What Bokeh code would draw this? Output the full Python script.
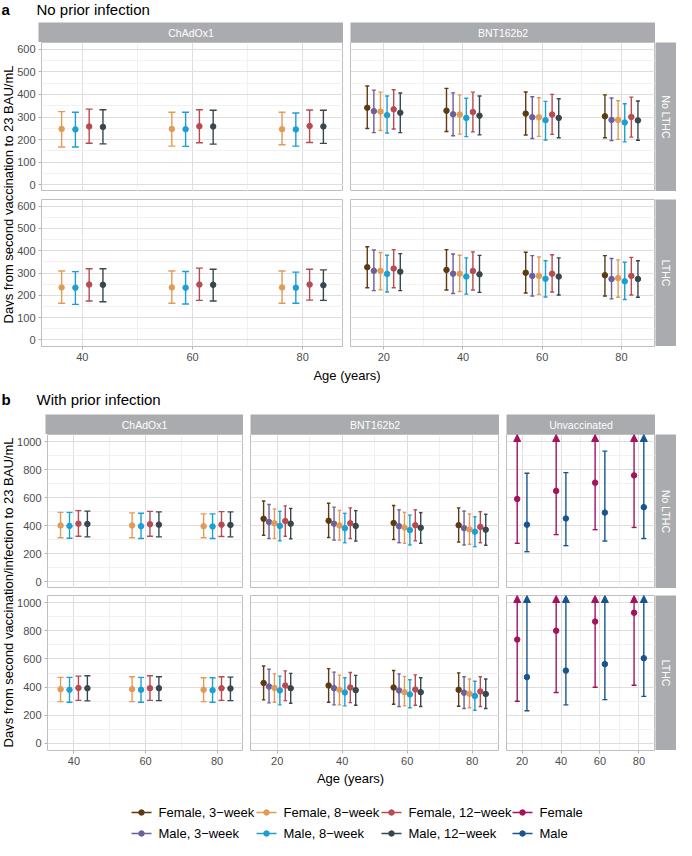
import math
from bokeh.plotting import figure
from bokeh.models import (Range1d, FixedTicker, ColumnDataSource, Whisker, TeeHead,
                          Arrow, NormalHead, Label, Spacer)
from bokeh.layouts import row, column
from bokeh.embed import file_html
from bokeh.resources import INLINE
from bokeh.core.properties import value

FONT = "Liberation Sans"

# ------------------------------------------------------------------ data
groups = ["Female, 3\u2212week", "Male, 3\u2212week", "Female, 8\u2212week",
          "Male, 8\u2212week", "Female, 12\u2212week", "Male, 12\u2212week"]
group_colors = ["#5c3b12", "#6b609b", "#e29b57", "#1c9fd3", "#b84a52", "#37474f"]
sex_groups = ["Female", "Male"]
sex_colors = ["#a5125c", "#17558f"]

chad_group_idx = [2, 3, 4, 5]          # ChAdOx1 only has 8- and 12-week intervals
bnt_group_idx = [0, 1, 2, 3, 4, 5]
chad_ages = [40, 60, 80]
bnt_ages = [20, 40, 60, 80]
unvac_ages = [20, 40, 60, 80]

a_y_ticks = [0, 100, 200, 300, 400, 500, 600]
b_y_ticks = [0, 200, 400, 600, 800, 1000]
chad_x_ticks = [40, 60, 80]
age_x_ticks = [20, 40, 60, 80]

OFF = None  # upper limit beyond the axis -> drawn as an arrow

# panel a, ChAdOx1, No LTHC (rows: F8, M8, F12, M12; cols: ages 40, 60, 80)
a_chad_no_est = [[247, 247, 246], [245, 246, 245], [258, 259, 260], [256, 258, 258]]
a_chad_no_lo = [[167, 171, 177], [167, 170, 171], [184, 186, 187], [181, 180, 183]]
a_chad_no_hi = [[324, 321, 321], [321, 321, 318], [335, 332, 331], [332, 330, 330]]
# panel a, ChAdOx1, LTHC
a_chad_lt_est = [[235, 235, 235], [234, 234, 234], [248, 248, 248], [247, 247, 245]]
a_chad_lt_lo = [[164, 164, 164], [159, 161, 164], [174, 177, 178], [171, 174, 177]]
a_chad_lt_hi = [[309, 309, 309], [306, 307, 304], [319, 322, 317], [319, 317, 314]]

# panel a, BNT162b2, No LTHC (rows: F3, M3, F8, M8, F12, M12; cols: ages 20, 40, 60, 80)
a_bnt_no_est = [[341, 328, 315, 303], [326, 312, 299, 287], [324, 311, 299, 287],
                [308, 296, 286, 276], [334, 322, 311, 300], [319, 306, 296, 285]]
a_bnt_no_lo = [[249, 236, 220, 208], [231, 217, 205, 196], [240, 224, 214, 201],
               [229, 213, 198, 190], [247, 234, 223, 211], [231, 221, 208, 197]]
a_bnt_no_hi = [[437, 427, 411, 398], [419, 407, 390, 384], [410, 398, 385, 372],
               [393, 383, 369, 359], [421, 410, 400, 388], [406, 393, 381, 371]]
# panel a, BNT162b2, LTHC
a_bnt_lt_est = [[326, 314, 301, 290], [310, 297, 287, 273], [310, 297, 287, 277],
                [296, 284, 274, 263], [320, 309, 297, 287], [306, 294, 284, 273]]
a_bnt_lt_lo = [[234, 224, 210, 197], [221, 208, 197, 184], [225, 217, 204, 191],
               [215, 205, 192, 181], [234, 224, 215, 201], [221, 213, 201, 191]]
a_bnt_lt_hi = [[418, 405, 393, 378], [403, 385, 378, 365], [392, 380, 372, 359],
               [380, 368, 355, 348], [405, 395, 382, 370], [387, 379, 368, 355]]

# panel b, ChAdOx1, No LTHC
b_chad_no_est = [[400, 400, 395], [397, 395, 393], [413, 409, 406], [411, 406, 404]]
b_chad_no_lo = [[312, 312, 312], [309, 307, 307], [323, 323, 321], [319, 319, 319]]
b_chad_no_hi = [[494, 490, 483], [494, 487, 483], [506, 501, 499], [503, 497, 497]]
# panel b, ChAdOx1, LTHC
b_chad_lt_est = [[385, 385, 381], [381, 381, 378], [394, 392, 392], [392, 392, 390]]
b_chad_lt_lo = [[297, 297, 297], [292, 292, 292], [306, 306, 306], [302, 304, 304]]
b_chad_lt_hi = [[469, 473, 466], [469, 469, 466], [478, 480, 473], [480, 473, 471]]

# panel b, BNT162b2, No LTHC
b_bnt_no_est = [[448, 434, 418, 402], [425, 413, 395, 381], [416, 400, 386, 372],
                [397, 381, 367, 356], [432, 416, 402, 390], [413, 397, 384, 370]]
b_bnt_no_lo = [[330, 314, 300, 282], [307, 296, 277, 261], [307, 296, 273, 266],
               [291, 277, 261, 249], [323, 307, 291, 277], [305, 289, 273, 259]]
b_bnt_no_hi = [[575, 559, 543, 526], [550, 531, 512, 503], [519, 508, 494, 483],
               [501, 487, 474, 462], [540, 526, 512, 499], [522, 506, 492, 480]]
# panel b, BNT162b2, LTHC
b_bnt_lt_est = [[429, 411, 397, 381], [404, 392, 376, 360], [394, 381, 364, 353],
                [376, 362, 348, 337], [411, 397, 383, 369], [392, 378, 364, 351]]
b_bnt_lt_lo = [[309, 292, 278, 264], [288, 274, 262, 248], [292, 274, 267, 253],
               [274, 267, 253, 236], [304, 290, 271, 262], [285, 271, 262, 248]]
b_bnt_lt_hi = [[550, 531, 518, 501], [527, 506, 494, 473], [494, 485, 476, 457],
               [478, 466, 452, 441], [515, 504, 487, 473], [497, 483, 466, 457]]

# panel b, Unvaccinated, No LTHC (rows: Female, Male)
b_unv_no_est = [[589, 647, 706, 758], [406, 450, 492, 531]]
b_unv_no_lo = [[273, 335, 370, 386], [213, 256, 289, 307]]
b_unv_no_hi = [[OFF, OFF, OFF, OFF], [773, 778, 931, OFF]]
# panel b, Unvaccinated, LTHC
b_unv_lt_est = [[737, 800, 865, 928], [471, 517, 563, 605]]
b_unv_lt_lo = [[299, 362, 399, 413], [232, 274, 311, 334]]
b_unv_lt_hi = [[OFF, OFF, OFF, OFF], [OFF, OFF, OFF, OFF]]

# ------------------------------------------------------------------ style
STRIP = "#a9abae"
BORDER = "#bfbfbf"
GRID = "#dedede"
GRID_MINOR = "#ededed"
TICK_TXT = "#4d4d4d"
LW = 1.4
PT = 5.5
DODGE = 10.0

A_YR = (-30, 630)
B_YR = (-50, 1050)


def style_axes(p):
    for ax in list(p.xaxis) + list(p.yaxis):
        ax.axis_line_color = None
        ax.major_tick_line_color = "#b3b3b3"
        ax.major_tick_out = 3
        ax.major_tick_in = 0
        ax.minor_tick_line_color = None
        ax.major_label_standoff = 2
        ax.major_label_text_font = FONT
        ax.major_label_text_font_size = "11px"
        ax.major_label_text_color = TICK_TXT


def panel(xr, yr, fw, fh, xticks, yticks, ystep, left=0, bottom=0):
    p = figure(width=fw + left, height=fh + bottom,
               x_range=Range1d(*xr), y_range=Range1d(*yr),
               output_backend="svg", toolbar_location=None,
               x_axis_location="below" if bottom else None,
               y_axis_location="left" if left else None,
               min_border_left=left, min_border_bottom=bottom,
               min_border_top=0, min_border_right=0)
    p.outline_line_color = BORDER
    p.outline_line_width = 1
    p.background_fill_color = "white"
    xt = FixedTicker(ticks=xticks, minor_ticks=[10, 30, 50, 70, 90])
    yt = FixedTicker(ticks=yticks,
                     minor_ticks=[t + ystep / 2 for t in [yticks[0] - ystep] + yticks])
    p.xgrid.ticker = xt
    p.ygrid.ticker = yt
    for g in list(p.xgrid) + list(p.ygrid):
        g.grid_line_color = GRID
        g.grid_line_width = 1
        g.minor_grid_line_color = GRID_MINOR
        g.minor_grid_line_width = 0.8
    for ax in p.xaxis:
        ax.ticker = xt
    for ax in p.yaxis:
        ax.ticker = yt
    style_axes(p)
    return p


def draw(p, ages, est, lo, hi, gidx, colors, cap, ytop):
    n = len(gidx)
    for k, gi in enumerate(gidx):
        off = (k - (n - 1) / 2) * DODGE / n
        xs = [a + off for a in ages]
        c = colors[gi]
        closed = [j for j in range(len(ages)) if hi[k][j] is not None]
        opened = [j for j in range(len(ages)) if hi[k][j] is None]
        if closed:
            src = ColumnDataSource(dict(x=[xs[j] for j in closed],
                                        lo=[lo[k][j] for j in closed],
                                        hi=[hi[k][j] for j in closed]))
            w = Whisker(source=src, base="x", lower="lo", upper="hi",
                        line_color=c, line_width=LW, level="underlay",
                        upper_head=TeeHead(size=cap, line_color=c, line_width=LW),
                        lower_head=TeeHead(size=cap, line_color=c, line_width=LW))
            p.add_layout(w)
        if opened:
            src = ColumnDataSource(dict(x=[xs[j] for j in opened],
                                        y0=[lo[k][j] for j in opened],
                                        y1=[ytop for j in opened]))
            a = Arrow(source=src, x_start="x", y_start="y0", x_end="x", y_end="y1",
                      line_color=c, line_width=LW, level="underlay",
                      start=TeeHead(size=cap, line_color=c, line_width=LW),
                      end=NormalHead(size=7, fill_color=c, line_color=c, line_width=1))
            p.add_layout(a)
        p.scatter(xs, est[k], size=PT, color=c, marker="circle")


def text_fig(w, h, bg=None):
    p = figure(width=w, height=h, x_range=Range1d(0, w), y_range=Range1d(0, h),
               output_backend="svg", toolbar_location=None,
               x_axis_location=None, y_axis_location=None, min_border=0)
    p.xgrid.visible = False
    p.ygrid.visible = False
    p.outline_line_color = None
    if bg:
        p.background_fill_color = bg
        p.border_fill_color = bg
    return p


def top_strip(w, txt, h=20):
    p = text_fig(w, h, STRIP)
    p.add_layout(Label(x=w / 2, y=h / 2, text=txt, text_font=FONT, text_font_size="10.5px",
                       text_color="white", text_align="center", text_baseline="middle"))
    return p


def right_strip(h, txt, w=21):
    p = text_fig(w, h, STRIP)
    p.add_layout(Label(x=w / 2, y=h / 2, text=txt, text_font=FONT, text_font_size="10.5px",
                       text_color="white", text_align="center", text_baseline="middle",
                       angle=-math.pi / 2))
    return p


def y_title(h, center_from_bottom, txt, w=14):
    p = text_fig(w, h)
    p.add_layout(Label(x=w / 2 + 0.5, y=center_from_bottom, text=txt, text_font=FONT,
                       text_font_size="13px", text_color="black", text_align="center",
                       text_baseline="middle", angle=math.pi / 2))
    return p


def centered_label(w, h, x, txt):
    p = text_fig(w, h)
    p.add_layout(Label(x=x, y=h / 2, text=txt, text_font=FONT, text_font_size="13px",
                       text_color="black", text_align="center", text_baseline="middle"))
    return p


def section_title(w, h, yc, letter, txt):
    p = text_fig(w, h)
    p.add_layout(Label(x=1, y=yc, text=letter, text_font=FONT, text_font_size="15px",
                       text_font_style="bold", text_color="black", text_align="left",
                       text_baseline="middle"))
    p.add_layout(Label(x=36, y=yc, text=txt, text_font=FONT, text_font_size="15px",
                       text_color="black", text_align="left", text_baseline="middle"))
    return p


TOTAL_W = 676

# ------------------------------------------------------------------ section a
A_TL, A_PW, A_GAP, A_SW, A_YT = 24, 305, 7, 21, 14
A_H1, A_H2, A_AX, A_VG = 149, 147, 20, 8
A_CHAD_XR = (32.6, 87.4)
A_BNT_XR = (11.6, 88.6)

pa11 = panel(A_CHAD_XR, A_YR, A_PW, A_H1, chad_x_ticks, a_y_ticks, 100, left=A_TL)
draw(pa11, chad_ages, a_chad_no_est, a_chad_no_lo, a_chad_no_hi, chad_group_idx, group_colors, 7, A_YR[1])
pa12 = panel(A_BNT_XR, A_YR, A_PW, A_H1, age_x_ticks, a_y_ticks, 100)
draw(pa12, bnt_ages, a_bnt_no_est, a_bnt_no_lo, a_bnt_no_hi, bnt_group_idx, group_colors, 4, A_YR[1])
pa21 = panel(A_CHAD_XR, A_YR, A_PW, A_H2, chad_x_ticks, a_y_ticks, 100, left=A_TL, bottom=A_AX)
draw(pa21, chad_ages, a_chad_lt_est, a_chad_lt_lo, a_chad_lt_hi, chad_group_idx, group_colors, 7, A_YR[1])
pa22 = panel(A_BNT_XR, A_YR, A_PW, A_H2, age_x_ticks, a_y_ticks, 100, bottom=A_AX)
draw(pa22, bnt_ages, a_bnt_lt_est, a_bnt_lt_lo, a_bnt_lt_hi, bnt_group_idx, group_colors, 4, A_YR[1])

a_strips = row(Spacer(width=A_TL, height=20), top_strip(A_PW, "ChAdOx1"),
               Spacer(width=A_GAP, height=20), top_strip(A_PW, "BNT162b2"))
a_r1 = row(pa11, Spacer(width=A_GAP, height=A_H1), pa12, right_strip(A_H1, "No LTHC"))
a_r2 = row(pa21, Spacer(width=A_GAP, height=A_H2 + A_AX), pa22,
           column(right_strip(A_H2, "LTHC"), Spacer(width=A_SW, height=A_AX)))
a_body = column(a_strips, a_r1, Spacer(width=10, height=A_VG), a_r2)
a_h = 20 + A_H1 + A_VG + A_H2 + A_AX
a_yt = y_title(a_h, A_AX + (A_H1 + A_VG + A_H2) / 2,
               "Days from second vaccination to 23 BAU/mL")
sec_a = row(a_yt, a_body)

# ------------------------------------------------------------------ section b
B_TL, B_W1, B_W2, B_W3, B_GAP, B_SW, B_YT = 31, 198, 249, 149, 7, 21, 14
B_H1, B_H2, B_AX, B_VG = 154, 155, 20, 7
B_CHAD_XR = (32.6, 87.4)
B_BNT_XR = (11.8, 88.4)
B_UNV_XR = (12.0, 88.5)

pb11 = panel(B_CHAD_XR, B_YR, B_W1, B_H1, chad_x_ticks, b_y_ticks, 200, left=B_TL)
draw(pb11, chad_ages, b_chad_no_est, b_chad_no_lo, b_chad_no_hi, chad_group_idx, group_colors, 6, B_YR[1])
pb12 = panel(B_BNT_XR, B_YR, B_W2, B_H1, age_x_ticks, b_y_ticks, 200)
draw(pb12, bnt_ages, b_bnt_no_est, b_bnt_no_lo, b_bnt_no_hi, bnt_group_idx, group_colors, 3.5, B_YR[1])
pb13 = panel(B_UNV_XR, B_YR, B_W3, B_H1, age_x_ticks, b_y_ticks, 200)
draw(pb13, unvac_ages, b_unv_no_est, b_unv_no_lo, b_unv_no_hi, [0, 1], sex_colors, 5, B_YR[1])
pb21 = panel(B_CHAD_XR, B_YR, B_W1, B_H2, chad_x_ticks, b_y_ticks, 200, left=B_TL, bottom=B_AX)
draw(pb21, chad_ages, b_chad_lt_est, b_chad_lt_lo, b_chad_lt_hi, chad_group_idx, group_colors, 6, B_YR[1])
pb22 = panel(B_BNT_XR, B_YR, B_W2, B_H2, age_x_ticks, b_y_ticks, 200, bottom=B_AX)
draw(pb22, bnt_ages, b_bnt_lt_est, b_bnt_lt_lo, b_bnt_lt_hi, bnt_group_idx, group_colors, 3.5, B_YR[1])
pb23 = panel(B_UNV_XR, B_YR, B_W3, B_H2, age_x_ticks, b_y_ticks, 200, bottom=B_AX)
draw(pb23, unvac_ages, b_unv_lt_est, b_unv_lt_lo, b_unv_lt_hi, [0, 1], sex_colors, 5, B_YR[1])

b_strips = row(Spacer(width=B_TL, height=20), top_strip(B_W1, "ChAdOx1"),
               Spacer(width=B_GAP, height=20), top_strip(B_W2, "BNT162b2"),
               Spacer(width=B_GAP, height=20), top_strip(B_W3, "Unvaccinated"))
b_r1 = row(pb11, Spacer(width=B_GAP, height=B_H1), pb12, Spacer(width=B_GAP, height=B_H1),
           pb13, right_strip(B_H1, "No LTHC"))
b_r2 = row(pb21, Spacer(width=B_GAP, height=B_H2 + B_AX), pb22,
           Spacer(width=B_GAP, height=B_H2 + B_AX), pb23,
           column(right_strip(B_H2, "LTHC"), Spacer(width=B_SW, height=B_AX)))
b_body = column(b_strips, b_r1, Spacer(width=10, height=B_VG), b_r2)
b_h = 20 + B_H1 + B_VG + B_H2 + B_AX
b_yt = y_title(b_h, B_AX + (B_H1 + B_VG + B_H2) / 2,
               "Days from second vaccination/infection to 23 BAU/mL")
sec_b = row(b_yt, b_body)

# ------------------------------------------------------------------ legend
LEG_H = 54
leg = text_fig(TOTAL_W, LEG_H)
leg_labels = []
leg_colors = []
for gi in range(0, 6, 2):
    leg_labels += [groups[gi], groups[gi + 1]]
    leg_colors += [group_colors[gi], group_colors[gi + 1]]
leg_labels += sex_groups
leg_colors += sex_colors
col_x = [131, 256, 381, 512]
row_y = [28, 7]
kx, ky = [], []
for i in range(len(leg_labels)):
    kx.append(col_x[i // 2])
    ky.append(row_y[i % 2])
leg.segment(x0=kx, y0=ky, x1=[x + 20 for x in kx], y1=ky, line_color=leg_colors, line_width=LW)
leg.scatter(x=[x + 10 for x in kx], y=ky, size=PT, color=leg_colors, marker="circle")
leg.text(x=[x + 27 for x in kx], y=ky, text=leg_labels, text_font=value(FONT),
         text_font_size="13px", text_color="black", text_align="left", text_baseline="middle")

# ------------------------------------------------------------------ assemble
title_a = section_title(TOTAL_W, 22, 13, "a", "No prior infection")
age_a = centered_label(TOTAL_W, 18, A_YT + A_TL + (2 * A_PW + A_GAP) / 2, "Age (years)")
title_b = section_title(TOTAL_W, 30, 15, "b", "With prior infection")
age_b = centered_label(TOTAL_W, 16, B_YT + B_TL + (B_W1 + B_W2 + B_W3 + 2 * B_GAP) / 2, "Age (years)")

layout = column(title_a, sec_a, age_a, title_b, sec_b, age_b, leg)

open("out.html", "w").write(file_html(layout, INLINE))
